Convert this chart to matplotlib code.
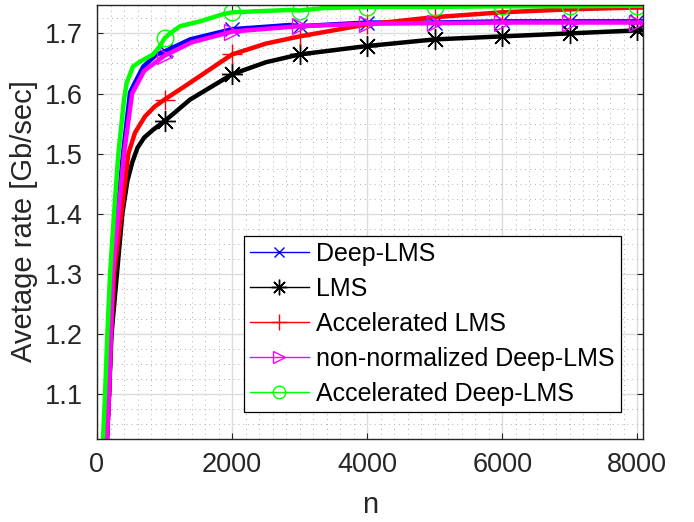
import matplotlib
matplotlib.use('Agg')
import matplotlib.pyplot as plt
from matplotlib.lines import Line2D
from matplotlib.ticker import MultipleLocator
import numpy as np

plt.rcParams['font.family'] = ['Liberation Sans', 'DejaVu Sans']

labels = ['Deep-LMS', 'LMS', 'Accelerated LMS', 'non-normalized Deep-LMS', 'Accelerated Deep-LMS']
colors = ['#0000ff', '#000000', '#ff0000', '#ff00ff', '#00ff00']
markers = ['x', (8, 2, 0), '+', '>', 'o']
marker_sizes = [10, 15, 15, 12, 12]

# Deep-LMS (blue)
n_dlms = [140, 178, 207, 228, 300, 385, 489, 588, 686, 884, 1000, 1378, 2000, 2860, 3000, 4000, 5000, 6000, 7000, 8000, 8084]
r_dlms = [1.007, 1.10, 1.20, 1.30, 1.40, 1.50, 1.602, 1.624, 1.645, 1.665, 1.670, 1.690, 1.707, 1.714, 1.712, 1.718, 1.718, 1.720, 1.720, 1.720, 1.720]

# LMS (black)
n_lms = [140, 178, 215, 295, 375, 450, 520, 600, 700, 833, 1000, 1378, 2000, 2500, 3000, 4000, 5000, 6000, 7000, 8000, 8084]
r_lms = [1.007, 1.10, 1.20, 1.30, 1.40, 1.455, 1.485, 1.510, 1.527, 1.540, 1.554, 1.590, 1.632, 1.652, 1.665, 1.679, 1.690, 1.695, 1.700, 1.705, 1.705]

# Accelerated LMS (red)
n_alms = [140, 178, 207, 252, 360, 464, 563, 711, 850, 1000, 1378, 2000, 2500, 3000, 4000, 5000, 6000, 7000, 8000, 8084]
r_alms = [1.007, 1.10, 1.20, 1.30, 1.40, 1.50, 1.535, 1.562, 1.578, 1.590, 1.618, 1.665, 1.683, 1.695, 1.715, 1.727, 1.735, 1.740, 1.743, 1.743]

# non-normalized Deep-LMS (magenta)
n_nn = [140, 178, 207, 232, 316, 400, 520, 700, 1000, 1400, 2000, 3000, 4000, 5000, 6000, 7000, 8000, 8084]
r_nn = [1.007, 1.10, 1.20, 1.30, 1.40, 1.50, 1.600, 1.638, 1.663, 1.685, 1.703, 1.712, 1.716, 1.717, 1.718, 1.718, 1.718, 1.718]

# Accelerated Deep-LMS (green)
n_adlms = [80, 119, 153, 193, 252, 316, 400, 440, 533, 637, 830, 933, 1000, 1081, 1230, 1526, 1867, 2000, 2860, 3000, 3350, 4000, 5000, 6000, 7000, 8000, 8084]
r_adlms = [1.005, 1.10, 1.20, 1.30, 1.40, 1.50, 1.590, 1.618, 1.645, 1.653, 1.665, 1.679, 1.692, 1.700, 1.712, 1.720, 1.732, 1.735, 1.739, 1.738, 1.742, 1.744, 1.744, 1.745, 1.745, 1.746, 1.746]

series_n = [n_dlms, n_lms, n_alms, n_nn, n_adlms]
series_r = [r_dlms, r_lms, r_alms, r_nn, r_adlms]

xticks = [0, 2000, 4000, 6000, 8000]
yticks = [1.1, 1.2, 1.3, 1.4, 1.5, 1.6, 1.7]

W, H = 694, 522
fig = plt.figure(figsize=(W / 100, H / 100), dpi=100)
ax = fig.add_axes([97 / W, 1 - 438.5 / H, 546 / W, 434 / H])

for n, r, c, m, ms in zip(series_n, series_r, colors, markers, marker_sizes):
    n = np.asarray(n)
    idx = [i for i, v in enumerate(n) if v >= 1000 and v % 1000 == 0]
    ax.plot(n, r, color=c, lw=3.2, marker=m, markevery=idx, ms=ms,
            mew=1.0, mfc='none', mec=c, solid_capstyle='butt', solid_joinstyle='round')

ax.set_xlim(0, 8084)
ax.set_ylim(1.0267, 1.748)
ax.set_xticks(xticks)
ax.set_yticks(yticks)
ax.set_xticklabels([str(v) for v in xticks])
ax.set_yticklabels([f'{v:.1f}' for v in yticks])
ax.xaxis.set_minor_locator(MultipleLocator(200))
ax.yaxis.set_minor_locator(MultipleLocator(0.025))

ax.grid(which='major', color='#dcdcdc', lw=1.0, ls='-')
ax.grid(which='minor', color='#b0b0b0', lw=0.7, ls=(0, (1, 4)))
ax.set_axisbelow(True)

ax.tick_params(which='major', direction='in', length=4, width=0.8, top=True, right=True,
               labelsize=19.5, labelcolor='#262626', color='#262626', pad=10)
ax.tick_params(which='minor', length=0, top=True, right=True)
for s in ax.spines.values():
    s.set_color('#262626')
    s.set_linewidth(1.0)

ax.set_xlabel('n', fontsize=21, color='#262626', labelpad=9)
ax.set_ylabel('Avetage rate [Gb/sec]', fontsize=21, color='#262626', labelpad=5)

handles = [Line2D([], [], color=c, lw=1.0, marker=m, ms=ms * 0.75, mew=1.0, mfc='none', mec=c)
           for c, m, ms in zip(colors, markers, marker_sizes)]
leg = ax.legend(handles, labels, loc='lower right', bbox_to_anchor=(0.960, 0.061),
                borderaxespad=0, fontsize=18, frameon=True, fancybox=False,
                edgecolor='black', framealpha=1, handlelength=2.35, handletextpad=0.3,
                borderpad=0.25, labelspacing=0.44)
leg.get_frame().set_linewidth(0.9)

fig.savefig('out.png', dpi=100)
